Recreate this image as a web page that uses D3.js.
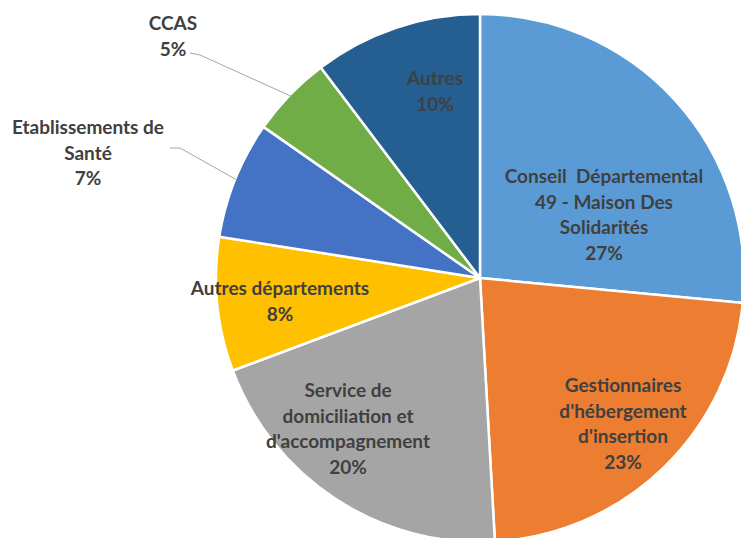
<!DOCTYPE html>
<html>
<head>
<meta charset="utf-8">
<script src="https://cdn.jsdelivr.net/npm/d3@7"></script>
<style>
  body { margin: 0; background: #fff; }
  text { font-family: Lato, "Open Sans", sans-serif; font-weight: bold; fill: #404040; }
</style>
</head>
<body>
<svg class="pie" width="741" height="538"></svg>
<script>
  // slices, clockwise from 12 o'clock
  var categories = [
    ["Conseil  Départemental", "49 - Maison Des", "Solidarités"],
    ["Gestionnaires", "d'hébergement", "d'insertion"],
    ["Service de", "domiciliation et", "d'accompagnement"],
    ["Autres départements"],
    ["Etablissements de", "Santé"],
    ["CCAS"],
    ["Autres"]
  ]
  var shares = [26.5, 22.6, 20.2, 8.2, 7.2, 5.0, 10.3]
  var colors = ["#5b9bd5", "#ed7d31", "#a5a5a5", "#ffc000", "#4472c4", "#70ad47", "#255e91"]

  // where Excel put the labels (center x, first line y), relative to the svg
  var labelPos = [[604, 183], [623, 392], [348, 397], [280, 295], [88, 134], [173, 30], [435, 85]]
  var lineHeight = 25.5

  var width = 741
  var height = 538
  var cx = 480, cy = 278, radius = 264

  const svg = d3.select("svg.pie")
  var data = shares.map((v, i) => ({ value: v, lines: categories[i], color: colors[i], pos: labelPos[i] }))

  const pie = d3.pie().sort(null).value(d => d.value)
  const arc = d3.arc().innerRadius(0).outerRadius(radius)

  svg.append("g")
    .attr("transform", "translate(" + cx + "," + cy + ")")
    .selectAll("path")
    .data(pie(data))
    .join("path")
    .attr("d", arc)
    .attr("fill", d => d.data.color)
    .attr("stroke", "#fff")
    .attr("stroke-width", 2.5)
    .attr("stroke-linejoin", "round")

  // leader lines for the two outside labels
  var leaders = [
    { i: 4, pts: [[170, 148], [180, 148]] },
    { i: 5, pts: [[190, 53], [200, 55]] }
  ]
  var arcs = pie(data)
  leaders.forEach(l => {
    var a = arcs[l.i]
    var mid = (a.startAngle + a.endAngle) / 2
    var end = [cx + Math.sin(mid) * (radius - 2), cy - Math.cos(mid) * (radius - 2)]
    svg.append("polyline")
      .attr("points", l.pts.concat([end]).map(p => p.join(",")).join(" "))
      .attr("fill", "none")
      .attr("stroke", "#a6a6a6")
      .attr("stroke-width", 1)
  })

  var fmt = d3.format(".0f")
  data.forEach(d => {
    var t = svg.append("text")
      .attr("text-anchor", "middle")
      .attr("font-size", 19)
      .style("white-space", "pre")
    var lines = d.lines.concat([fmt(d.value) + "%"])
    lines.forEach((s, k) => {
      t.append("tspan")
        .attr("x", d.pos[0])
        .attr("y", d.pos[1] + k * lineHeight)
        .text(s)
    })
  })
</script>
</body>
</html>
